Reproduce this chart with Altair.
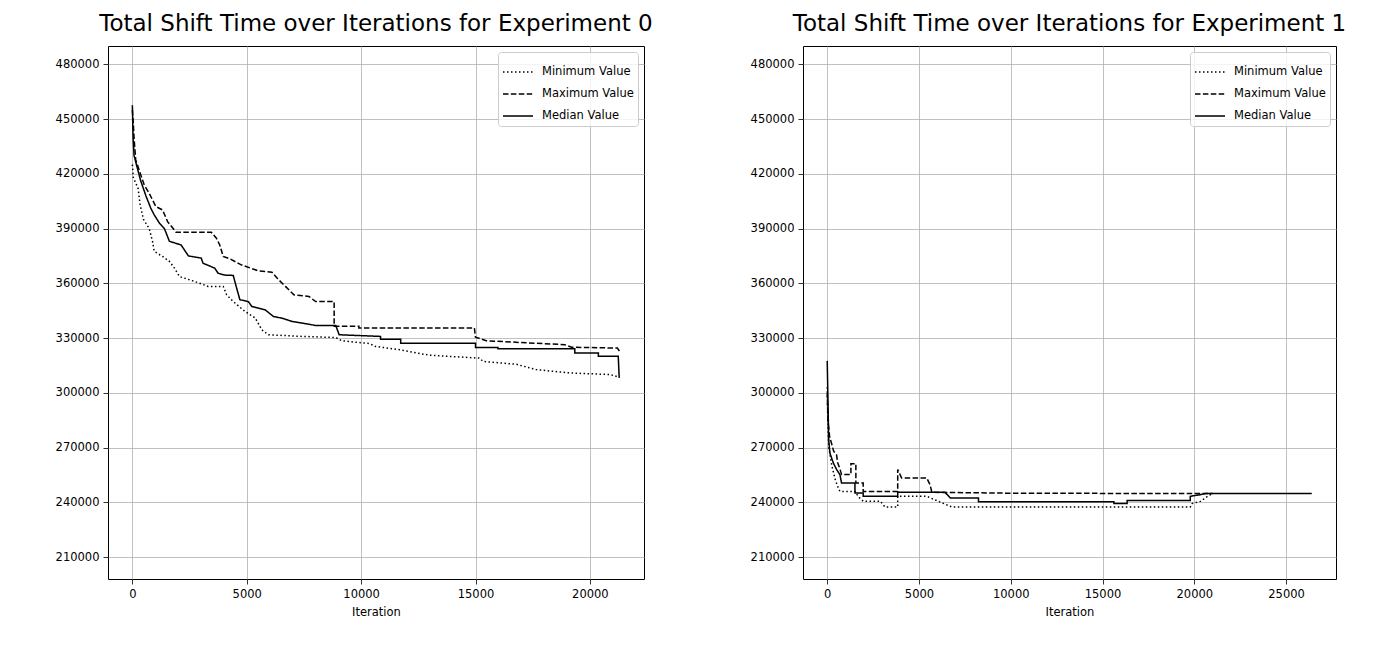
import altair as alt
import pandas as pd

SERIES = ["Minimum Value", "Maximum Value", "Median Value"]
Y_TICKS = [210000, 240000, 270000, 300000, 330000, 360000, 390000, 420000, 450000, 480000]
X_TICKS_0 = [0, 5000, 10000, 15000, 20000]
X_TICKS_1 = [0, 5000, 10000, 15000, 20000, 25000]

# ---- Experiment 0 ----
exp0_min_x = [0, 40, 250, 340, 485, 735, 880, 955, 1320, 1620, 1840, 2060, 2720, 3310, 3970, 4120, 4410, 4920,
              5370, 5660, 5950, 7420, 8890, 9160, 10360, 10630, 11580, 12980, 15180, 15330, 16790, 17660, 19120,
              20880, 21300]
exp0_min_y = [425000, 418000, 412000, 403000, 395000, 390000, 383000, 377500, 374700, 372000, 368300, 363700,
              361000, 358300, 358300, 353700, 350000, 344600, 341000, 334500, 331800, 330900, 330300, 328500,
              327000, 325400, 323800, 320600, 319000, 317200, 315600, 312700, 310900, 310000, 308500]

exp0_max_x = [0, 40, 74, 147, 368, 515, 735, 1030, 1320, 1540, 1910, 3450, 3675, 3820, 3970, 4260, 4780, 5510,
              6100, 6390, 6690, 7060, 7720, 8010, 8820, 8820, 9900, 9900, 14950, 15000, 15470, 18900, 19200,
              21200, 21300]
exp0_max_y = [455000, 448000, 439400, 427600, 419400, 414000, 409300, 402000, 400200, 393800, 388000, 388000,
              384700, 381000, 374700, 373400, 370000, 366800, 366100, 362000, 358300, 353700, 352800, 350000,
              350000, 336400, 336400, 335500, 335500, 330500, 328500, 326400, 325000, 324500, 322700]

exp0_med_x = [0, 30, 74, 220, 368, 590, 810, 955, 1180, 1400, 1620, 2130, 2450, 3010, 3090, 3600, 3750, 4040,
              4410, 4560, 4700, 5070, 5220, 5800, 6170, 6540, 6980, 7420, 8010, 8890, 9040, 10850, 10850, 11730,
              11730, 15000, 15000, 15980, 15980, 19340, 19340, 20370, 20370, 21240, 21280, 21300]
exp0_med_y = [457500, 440000, 430000, 423000, 416000, 408000, 401000, 397500, 393000, 390000, 383000, 381000,
              375000, 373800, 371000, 368300, 365500, 364500, 364300, 357300, 351000, 350000, 347300, 345500,
              341800, 340900, 339100, 338200, 336900, 336900, 331800, 330900, 329400, 329400, 327200, 327200,
              324800, 324800, 324200, 324200, 321800, 321800, 320000, 320000, 308500, 308500]

# ---- Experiment 1 ----
exp1_min_x = [0, 30, 90, 250, 450, 600, 690, 1510, 1700, 1960, 2900, 3150, 3840, 3840, 5420, 6050, 6780,
              19780, 19870, 20330, 20780, 21000]
exp1_min_y = [303000, 285000, 270000, 260000, 252000, 248000, 246000, 246000, 243000, 240600, 240600, 237400,
              237400, 243300, 243300, 240600, 237500, 237500, 239300, 240500, 243700, 244800]

exp1_max_x = [0, 40, 130, 270, 350, 510, 560, 700, 780, 1290, 1290, 1560, 1560, 1960, 1960, 3840, 3840, 4050,
              5420, 5600, 5700, 10000, 20600, 21000]
exp1_max_y = [300000, 285000, 276000, 271000, 268000, 266000, 262000, 258000, 255200, 255200, 261200, 261200,
              250600, 250600, 246000, 246000, 258000, 253400, 253400, 249700, 245500, 245000, 244800, 244800]

exp1_med_x = [0, 50, 80, 145, 330, 510, 690, 780, 1510, 1510, 1960, 1960, 3840, 3840, 6420, 6700, 8240, 8240,
              15620, 15620, 16340, 16340, 19780, 19780, 20330, 20600, 26400]
exp1_med_y = [317500, 290000, 274000, 267000, 261600, 258000, 255200, 250600, 250600, 245100, 245100, 243300,
              243300, 245500, 245500, 242400, 242400, 240300, 240300, 239300, 239300, 241000, 241000, 243300,
              244200, 244800, 244800]


def frame(xs, ys, name):
    return pd.DataFrame({"iteration": xs, "value": ys, "series": name, "order": list(range(len(xs)))})


def panel(parts, title, xdomain, xticks, width):
    df = pd.concat([frame(*p) for p in parts], ignore_index=True)
    return alt.Chart(df).mark_line(color="black", strokeWidth=1.5, clip=True).encode(
        x=alt.X("iteration:Q",
                scale=alt.Scale(domain=xdomain, nice=False, zero=False),
                axis=alt.Axis(values=xticks, format="d", title="Iteration")),
        y=alt.Y("value:Q",
                scale=alt.Scale(domain=[198000, 490000], nice=False, zero=False),
                axis=alt.Axis(values=Y_TICKS, format="d", title=None)),
        strokeDash=alt.StrokeDash("series:N",
                                  scale=alt.Scale(domain=SERIES, range=[[1.5, 2.5], [5.5, 2.4], [1, 0]]),
                                  legend=alt.Legend(title=None, orient="top-right")),
        order="order:Q",
    ).properties(width=width, height=533, title=title)


left = panel([(exp0_min_x, exp0_min_y, SERIES[0]),
              (exp0_max_x, exp0_max_y, SERIES[1]),
              (exp0_med_x, exp0_med_y, SERIES[2])],
             "Total Shift Time over Iterations for Experiment 0", [-1065, 22365], X_TICKS_0, 536)

right = panel([(exp1_min_x, exp1_min_y, SERIES[0]),
               (exp1_max_x, exp1_max_y, SERIES[1]),
               (exp1_med_x, exp1_med_y, SERIES[2])],
              "Total Shift Time over Iterations for Experiment 1", [-1320, 27720], X_TICKS_1, 533)

chart = alt.hconcat(left, right, spacing=159, bounds="flush").resolve_scale(
    x="independent", strokeDash="independent"
).resolve_legend(strokeDash="independent").properties(
    padding={"left": 46, "top": 4, "right": 5, "bottom": 5}
).configure_axis(
    labelFont="DejaVu Sans", labelFontSize=11.5, labelColor="black",
    titleFont="DejaVu Sans", titleFontSize=11.5, titleColor="black", titleFontWeight="normal",
    titlePadding=7, grid=True, gridColor="#b0b0b0", gridWidth=0.8,
    tickColor="black", tickWidth=0.8, tickSize=5, domain=False, labelPadding=4,
).configure_view(
    stroke="black", strokeWidth=1
).configure_title(
    font="DejaVu Sans", fontSize=23, fontWeight="normal", color="black",
    anchor="middle", frame="group", offset=10,
).configure_legend(
    labelFont="DejaVu Sans", labelFontSize=11.5, labelColor="black",
    symbolType="stroke", symbolSize=900, symbolStrokeWidth=1.5, symbolStrokeColor="black",
    padding=4, rowPadding=0, offset=6, fillColor="rgba(255,255,255,0.8)",
    strokeColor="#cccccc", cornerRadius=3, labelOffset=8,
)

chart.save("out.html", embed_options={"renderer": "svg", "actions": False})
